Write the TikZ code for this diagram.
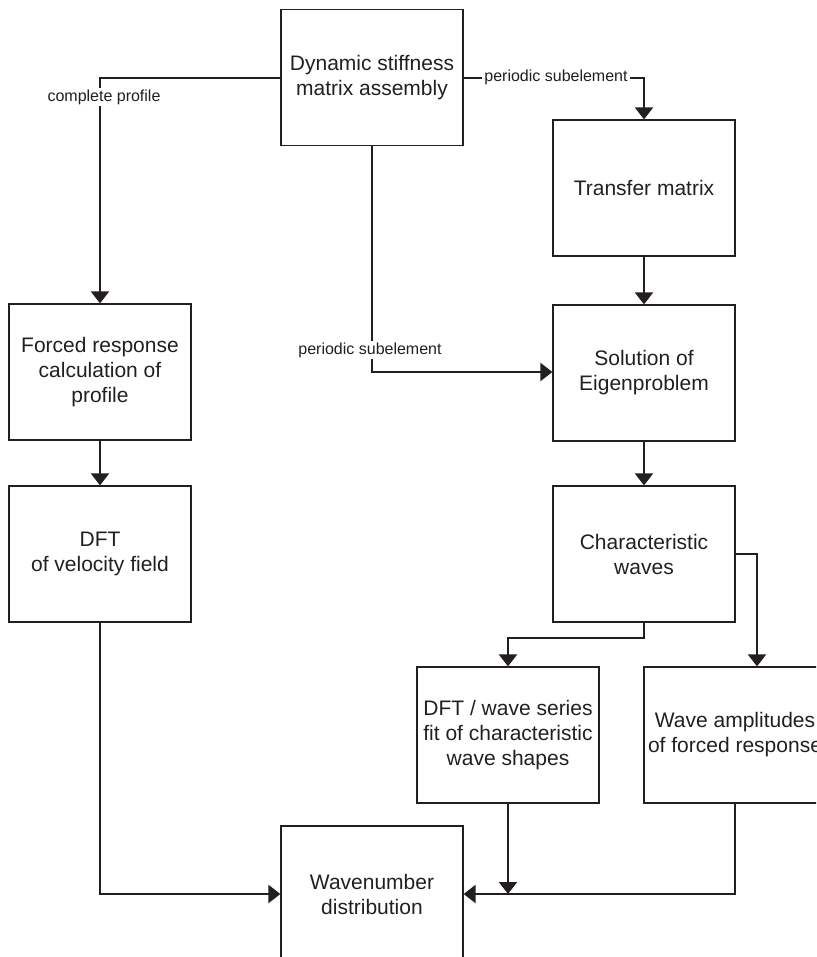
\documentclass[tikz,border=0pt]{standalone}
\usepackage{fontspec}
\setmainfont{Liberation Sans}
\usetikzlibrary{arrows.meta}
\definecolor{ink}{RGB}{35,31,32}
\begin{document}
\begin{tikzpicture}[x=1pt,y=-1pt,
  box/.style={draw=ink,line width=1.2pt,minimum width=182pt,minimum height=136pt,
    align=center,text=ink,font=\fontsize{21}{25}\selectfont,inner sep=0pt},
  conn/.style={draw=ink,line width=2.2pt},
  arr/.style={conn,-{Triangle[width=18pt,length=12pt]}},
  lbl/.style={text=ink,font=\fontsize{16}{19}\selectfont,fill=white,inner sep=2pt}]
\useasboundingbox (0,0) rectangle (816,957);
\clip (0,0) rectangle (816,957);
\node[box] (dyn) at (372,77.5) {Dynamic stiffness\\matrix assembly};
\node[box] (transfer) at (644,188) {Transfer matrix};
\node[box] (solution) at (644,373) {Solution of\\Eigenproblem};
\node[box] (char) at (644,554) {Characteristic\\waves};
\node[box] (forced) at (100,372) {Forced response\\calculation of\\profile};
\node[box] (dft) at (100,554) {DFT\\of velocity field};
\node[box] (dftw) at (508,735) {DFT / wave series\\fit of characteristic\\wave shapes};
\node[box] (ampl) at (735,735) {Wave amplitudes\\of forced response};
\node[box] (wave) at (372,894) {Wavenumber\\distribution};
\coordinate (c1) at (100,78);
\coordinate (c2) at (644,78);
\coordinate (c3) at (372,372);
\coordinate (c4) at (644,638);
\coordinate (c5) at (508,638);
\coordinate (c6) at (757,554);
\coordinate (c7) at (100,894);
\coordinate (c8) at (508,894);
\coordinate (c9) at (735,894);
\draw[arr] (dyn.west |- c1) -- (c1) -- (forced.north);
\node[lbl] (l1) at (104,97) {complete profile};
\draw[arr] (dyn.east |- c2) -- (c2) -- (transfer.north);
\node[lbl] (l2) at (556,77) {periodic subelement};
\draw[arr] (dyn.south) -- (c3) -- (solution.west |- c3);
\node[lbl] (l3) at (370,350) {periodic subelement};
\draw[arr] (transfer.south) -- (solution.north);
\draw[arr] (solution.south) -- (char.north);
\draw[arr] (forced.south) -- (dft.north);
\draw[arr] (char.south) -- (c4) -- (c5) -- (dftw.north);
\draw[arr] (char.east) -- (c6) -- (c6 |- ampl.north);
\draw[arr] (dft.south) -- (c7) -- (wave.west);
\draw[arr] (dftw.south) -- (c8);
\draw[arr] (ampl.south) -- (c9) -- (wave.east);
\end{tikzpicture}
\end{document}
